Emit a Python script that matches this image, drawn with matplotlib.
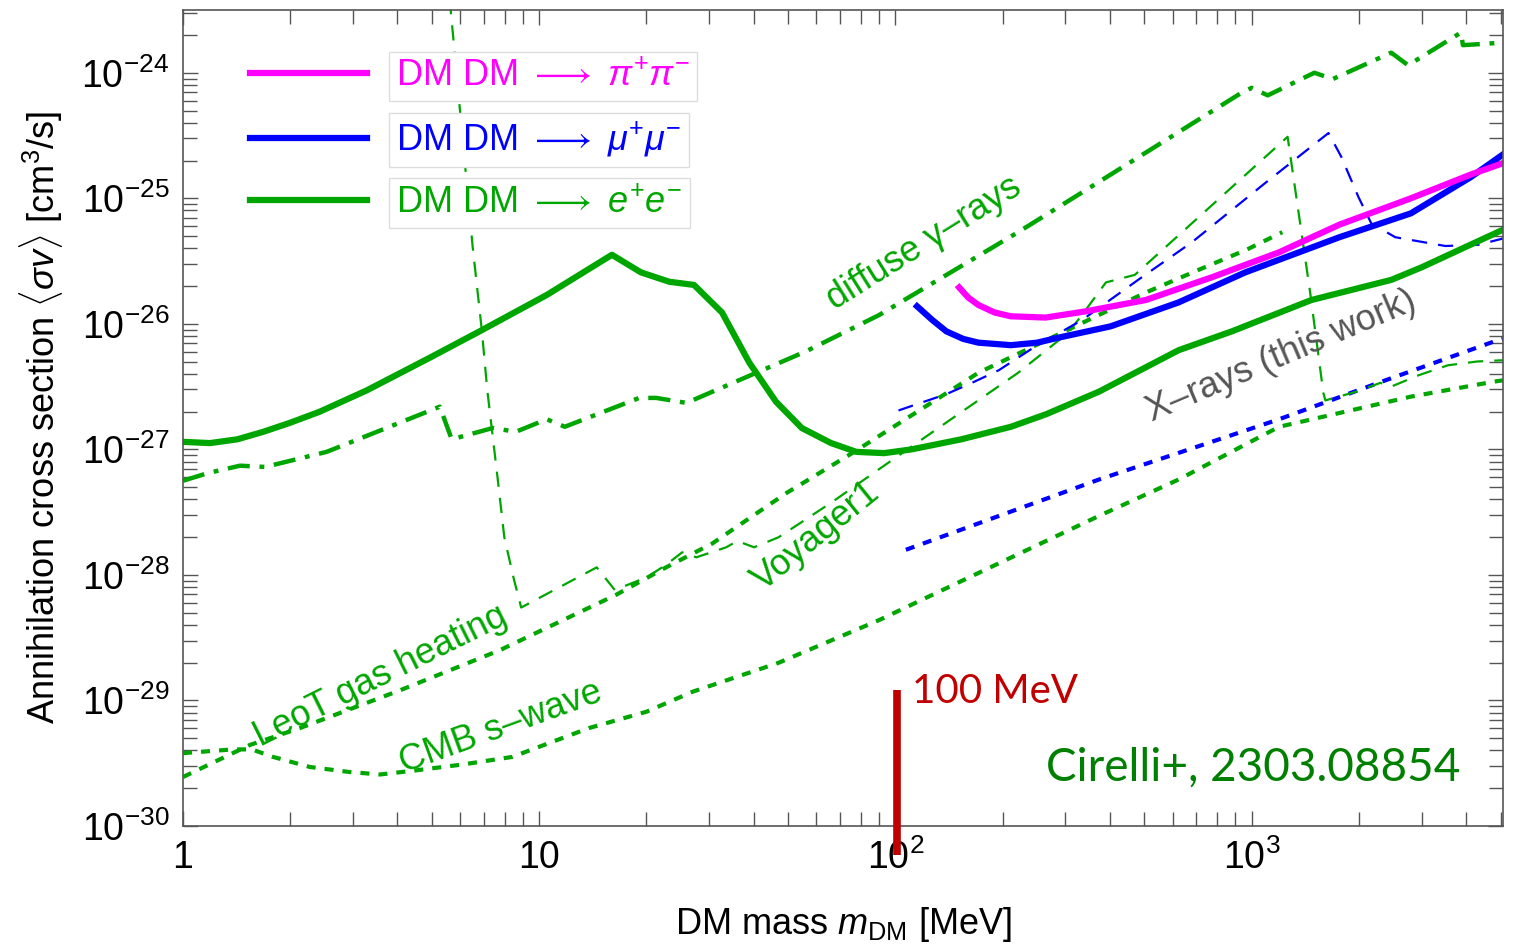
import numpy as np
import matplotlib
matplotlib.use('Agg')
import matplotlib.pyplot as plt
from matplotlib.ticker import FixedLocator, FixedFormatter, LogLocator, NullFormatter, LogFormatterMathtext

plt.rcParams['font.family'] = ['Liberation Sans', 'DejaVu Sans']
plt.rcParams['mathtext.fontset'] = 'custom'
plt.rcParams['mathtext.rm'] = 'Liberation Sans'
plt.rcParams['mathtext.it'] = 'Liberation Sans:italic'
plt.rcParams['mathtext.bf'] = 'Liberation Sans:bold'
plt.rcParams['lines.scale_dashes'] = False

# masses in MeV, cross sections as log10(<sigma v> / cm^3 s^-1)
ee_mass = np.array([1, 1.19, 1.42, 1.68, 1.99, 2.42, 3.28, 4.93, 6.8, 10.5, 16.0, 19.3, 23.2, 27.2,
                    32.6, 38.9, 46.2, 54.6, 66, 77.7, 93, 111, 153, 211, 265, 373, 624, 880,
                    1473, 2466, 3000, 5080])
ee_logsv = np.array([-26.94, -26.95, -26.92, -26.86, -26.79, -26.70, -26.53, -26.27, -26.06, -25.77,
                     -25.45, -25.59, -25.665, -25.69, -25.91, -26.31, -26.62, -26.83, -26.95, -27.02,
                     -27.03, -27.0, -26.92, -26.82, -26.72, -26.54, -26.21, -26.06, -25.81, -25.65,
                     -25.55, -25.25])

mumu_mass = np.array([115, 127, 139, 155, 171, 211, 250, 287, 402, 623, 960, 1764, 2800, 4130, 5080])
mumu_logsv = np.array([-25.86, -25.97, -26.06, -26.12, -26.15, -26.17, -26.15, -26.11, -26.02,
                       -25.83, -25.59, -25.31, -25.12, -24.83, -24.65])

pipi_mass = np.array([151, 160, 171, 190, 211, 264, 343, 505, 772, 1195, 1764, 2800, 4130, 5080])
pipi_logsv = np.array([-25.71, -25.79, -25.85, -25.91, -25.94, -25.95, -25.90, -25.81, -25.63,
                       -25.43, -25.21, -25.0, -24.81, -24.72])

gamma_mass = np.array([1, 1.17, 1.445, 1.70, 2.53, 5.26, 5.68, 7.4, 8.6, 10.5, 11.8, 19.1, 21.3,
                       25.9, 56, 90, 221, 327, 918, 1000, 1110, 1500, 1690, 2466, 2750, 3870,
                       3920, 5080])
gamma_logsv = np.array([-27.25, -27.19, -27.13, -27.14, -27.02, -26.66, -26.92, -26.83, -26.86,
                        -26.76, -26.82, -26.59, -26.59, -26.63, -26.22, -25.93, -25.27, -24.97,
                        -24.175, -24.12, -24.18, -24.0, -24.05, -23.84, -23.94, -23.68, -23.78,
                        -23.76])

voy_ee_mass = np.array([5.6, 6.5, 6.9, 7.15, 7.65, 7.98, 8.5, 8.9, 14.5, 16.3, 20, 22.7, 25.2,
                        27.6, 33.5, 36, 40.1, 47, 66.4, 94, 221, 306, 340, 390, 470, 1262, 1460,
                        1590, 1611, 1970, 2300, 2466, 2940, 3560, 4300, 5080])
voy_ee_logsv = np.array([-23.4, -25.38, -26.05, -26.53, -27.24, -27.70, -28.04, -28.26, -27.94,
                         -28.12, -28.02, -27.92, -27.82, -27.86, -27.78, -27.73, -27.78, -27.70,
                         -27.42, -27.12, -26.39, -26.07, -25.90, -25.67, -25.61, -24.51, -25.75,
                         -26.55, -26.61, -26.54, -26.47, -26.50, -26.41, -26.33, -26.30, -26.29])

voy_mumu_mass = np.array([102, 139, 164, 195, 241, 334, 480, 680, 1090, 1644, 1786, 1995, 2168,
                          2531, 3500, 4340, 5080])
voy_mumu_logsv = np.array([-26.69, -26.56, -26.47, -26.37, -26.20, -25.97, -25.65, -25.35, -24.88,
                           -24.48, -24.67, -24.99, -25.20, -25.31, -25.38, -25.37, -25.32])

leot_mass = np.array([1, 1.54, 2.13, 4.06, 7.75, 16.4, 22.7, 30.6, 49.3, 75.6, 171, 405, 505,
                      710, 967, 1220])
leot_logsv = np.array([-29.61, -29.355, -29.22, -28.92, -28.60, -28.16, -27.94, -27.75, -27.35,
                       -27.03, -26.39, -25.88, -25.75, -25.57, -25.41, -25.27])

cmb_ee_mass = np.array([1, 1.38, 1.56, 1.79, 2.27, 2.93, 3.57, 4.42, 6.1, 8.4, 13.8, 20, 27, 47,
                        90, 161, 373, 624, 1195, 2800, 4800, 5080])
cmb_ee_logsv = np.array([-29.42, -29.39, -29.39, -29.45, -29.53, -29.57, -29.59, -29.56, -29.51,
                         -29.45, -29.22, -29.09, -28.93, -28.70, -28.36, -28.02, -27.53, -27.24,
                         -26.82, -26.58, -26.46, -26.45])

cmb_mumu_mass = np.array([107, 373, 1195, 2270, 4800, 5080])
cmb_mumu_logsv = np.array([-27.80, -27.24, -26.76, -26.47, -26.14, -26.12])

marker_mass = 101
marker_logsv = [-30.23, -28.92]

xtick_vals = [1, 10, 100, 1000]
xtick_labels = ['1', '10', '$10^2$', '$10^3$']
ytick_vals = [1e-30, 1e-29, 1e-28, 1e-27, 1e-26, 1e-25, 1e-24]

green = '#00a600'
fig = plt.figure(figsize=(15.15, 9.47), dpi=100)
ax = fig.add_axes([0.1208, 0.1278, 0.8713, 0.8616])
ax.set_xscale('log')
ax.set_yscale('log')

dotted = (0, (6.5, 6.5))
thin_dash = (0, (11, 8))
dashdot = (0, (16, 7, 3.5, 7))

ax.plot(cmb_ee_mass, 10.0 ** cmb_ee_logsv, color=green, lw=3.0, ls=dotted)
ax.plot(leot_mass, 10.0 ** leot_logsv, color=green, lw=3.0, ls=dotted)
ax.plot(cmb_mumu_mass, 10.0 ** cmb_mumu_logsv, color='#0000ff', lw=3.0, ls=dotted)
ax.plot(voy_ee_mass, 10.0 ** voy_ee_logsv, color=green, lw=1.6, ls=thin_dash)
ax.plot(voy_mumu_mass, 10.0 ** voy_mumu_logsv, color='#0000ff', lw=1.6, ls=thin_dash)
ax.plot(gamma_mass, 10.0 ** gamma_logsv, color=green, lw=3.2, ls=dashdot)

l_ee, = ax.plot(ee_mass, 10.0 ** ee_logsv, color=green, lw=4.5)
l_mm, = ax.plot(mumu_mass, 10.0 ** mumu_logsv, color='#0000ff', lw=4.5)
l_pp, = ax.plot(pipi_mass, 10.0 ** pipi_logsv, color='#ff00ff', lw=4.5)

ax.plot([marker_mass, marker_mass], [10.0 ** v for v in marker_logsv], color='#c00000',
        lw=5.5, solid_capstyle='butt', clip_on=False, zorder=5)

ax.set_xlim(1, 5080)
ax.set_ylim(1e-30, 3.16e-24)

lab = dict(color=green, fontsize=26, ha='center', va='center', rotation_mode='anchor')
ax.text(120, 10 ** -25.355, 'diffuse \u03b3\u2013rays', rotation=32, **lab)
ax.text(3.59, 10 ** -28.805, 'LeoT gas heating', rotation=26.5, **lab)
ax.text(7.79, 10 ** -29.22, 'CMB s\u2013wave', rotation=20, **lab)
ax.text(59.9, 10 ** -27.69, 'Voyager1', rotation=39, **lab)
ax.text(1213, 10 ** -26.26, 'X\u2013rays (this work)', rotation=23, color='#555555',
        fontsize=26, ha='center', va='center', rotation_mode='anchor')

ax.text(111.5, 10 ** -28.93, '100 MeV', color='#c00000', fontsize=29, family='Lato',
        ha='left', va='center')
ax.text(0.6536, 0.055, 'Cirelli+, 2303.08854', color='#008000', fontsize=33, family='Lato',
        ha='left', va='baseline', transform=ax.transAxes)

leg = ax.legend([l_pp, l_mm, l_ee],
                [r'DM DM $\longrightarrow$ $\pi^{+}\pi^{-}$',
                 r'DM DM $\longrightarrow$ $\mu^{+}\mu^{-}$',
                 r'DM DM $\longrightarrow$ $e^{+}e^{-}$'],
                loc='upper left', bbox_to_anchor=(0.0507, 0.940), frameon=False,
                fontsize=26, handlelength=3.25, handletextpad=0.8, labelspacing=0.72,
                borderpad=0, borderaxespad=0)
for t, c in zip(leg.get_texts(), ['#ff00ff', '#0000ff', green]):
    t.set_color(c)
    t.set_bbox(dict(boxstyle='square,pad=0.2', facecolor='white', edgecolor='#dddddd', lw=1))

ax.xaxis.set_major_locator(FixedLocator(xtick_vals))
ax.xaxis.set_major_formatter(FixedFormatter(xtick_labels))
ax.xaxis.set_minor_locator(LogLocator(base=10, subs=np.arange(2, 10)))
ax.xaxis.set_minor_formatter(NullFormatter())
ax.yaxis.set_major_locator(FixedLocator(ytick_vals))
ax.yaxis.set_major_formatter(LogFormatterMathtext())
ax.yaxis.set_minor_locator(LogLocator(base=10, subs=np.arange(2, 10), numticks=20))
ax.yaxis.set_minor_formatter(NullFormatter())

ax.tick_params(which='both', direction='in', top=True, right=True, color='#555555',
               width=1.0, labelsize=27, labelcolor='black')
ax.tick_params(which='major', length=11, pad=10)
ax.tick_params(which='minor', length=10)
for s in ax.spines.values():
    s.set_color('#555555')
    s.set_linewidth(1.2)

ax.set_xlabel(r'DM mass $m_{\rm DM}$ [MeV]', fontsize=26, labelpad=20)
ax.set_ylabel(r'Annihilation cross section $\langle\sigma v\rangle$ [cm$^3$/s]', fontsize=26,
              labelpad=12)

fig.savefig('out.png', dpi=100)
